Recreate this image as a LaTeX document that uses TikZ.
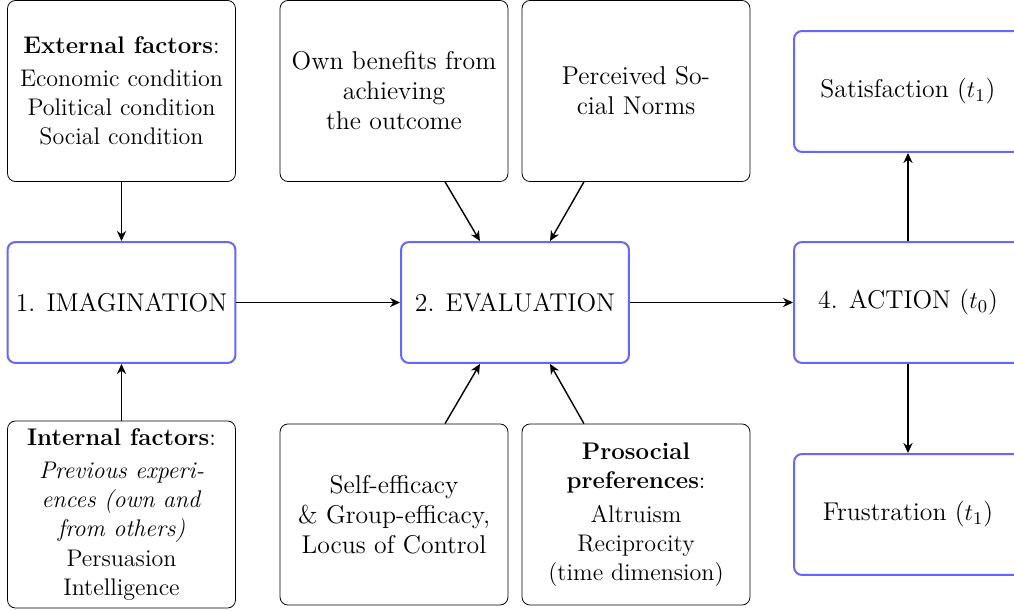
\documentclass[tikz,border=0pt]{standalone}
\usetikzlibrary{calc,arrows.meta}
\tikzset{
  basebox/.style={rectangle, rounded corners=4pt, inner sep=0pt, align=center,
    minimum width=113.8pt, font=\fontsize{12}{14.5}\selectfont},
  bigtext/.style={font=\fontsize{12.85}{15}\selectfont},
  graybox/.style={basebox, draw=black, thin, minimum height=90.4pt},
  bluebox/.style={basebox, bigtext, draw=blue!60, line width=1pt, minimum height=60.4pt},
  arr/.style={-{Stealth[length=5pt,width=4.6pt,inset=1.6pt]}, line width=0.7pt, black}
}
\begin{document}
\begin{tikzpicture}[x=0.4993pt,y=-0.4993pt]
\useasboundingbox (0,0) rectangle (1014,611);
\clip (0,0) rectangle (1014,611);
% top row
\node[graybox] (ext) at (121.5,91) {\textbf{External factors}:\\[2pt] Economic condition\\ Political condition\\ Social condition};
\node[graybox, bigtext] (own) at (394,91) {Own benefits from\\ achieving\\ the outcome};
\node[graybox, bigtext] (norms) at (636,91) {Perceived So-\\cial Norms};
\node[bluebox] (sat) at (908,91.5) {Satisfaction ($t_1$)};
% middle row
\node[bluebox] (imag) at (121.5,302.5) {1. IMAGINATION};
\node[bluebox] (eval) at (515,302.5) {2. EVALUATION};
\node[bluebox] (act) at (908,302.5) {4. ACTION ($t_0$)};
% bottom row
\node[graybox, minimum height=93.4pt] (int) at (121.5,514.5) {\textbf{Internal factors}:\\[2pt] \textit{Previous experi-}\\ \textit{ences (own and}\\ \textit{from others)}\\ Persuasion\\ Intelligence};
\node[graybox, bigtext] (self) at (394,514.5) {Self-efficacy\\ \& Group-efficacy,\\ Locus of Control};
\node[graybox] (pro) at (636,514.5) {\textbf{Prosocial}\\ \textbf{preferences}:\\[2.5pt] Altruism\\ Reciprocity\\ (time dimension)};
\node[bluebox] (frus) at (908,514.5) {Frustration ($t_1$)};
% connectors
\draw[arr] (ext.south) -- (imag.north);
\draw[arr] (int.north) -- (imag.south);
\draw[arr] (imag.east) -- (eval.west);
\draw[arr] (eval.east) -- (act.west);
\draw[arr] (act.north) -- (sat.south);
\draw[arr] (act.south) -- (frus.north);
\draw[arr] ([xshift=25.5pt]own.south) -- ([xshift=-17.5pt]eval.north);
\draw[arr] ([xshift=-26pt]norms.south) -- ([xshift=17.5pt]eval.north);
\draw[arr] ([xshift=25.5pt]self.north) -- ([xshift=-17.5pt]eval.south);
\draw[arr] ([xshift=-26pt]pro.north) -- ([xshift=17.5pt]eval.south);
\end{tikzpicture}
\end{document}
